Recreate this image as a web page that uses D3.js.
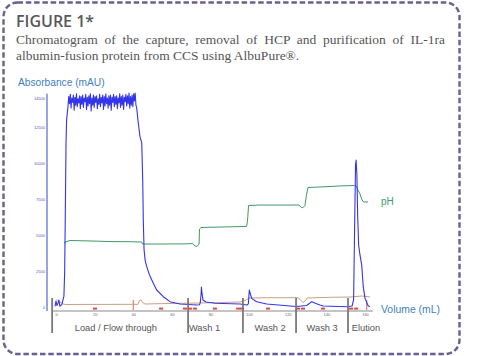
<!DOCTYPE html>
<html><head><meta charset="utf-8">
<script src="https://cdn.jsdelivr.net/npm/d3@7"></script>
<style>body{margin:0;background:#fff}svg{display:block}</style>
</head><body>
<svg id="c" width="480" height="356"></svg>
<script>
// ---------- data ----------
const titleText = "FIGURE 1*";
const subtitleLines = [
  "Chromatogram of the capture, removal of HCP and purification of IL-1ra",
  "albumin-fusion protein from CCS using AlbuPure\u00AE."
];
const yTickValues = [0, 2500, 5000, 7500, 10000, 12500, 14500];
const xTickValues = [0, 20, 40, 60, 80, 100, 120, 140, 160];
// absorbance (mAU) vs volume (mL)
const absVolume = [-0.5,0,0.5,1.0,1.5,2.0,2.6,3.1,3.6,4.1,4.5,4.9,5.2,5.5,5.8,
 6.2,6.6,7.0,7.4,7.8,8.2,8.6,9.0,9.4,9.8,10.2,10.6,11.0,11.4,11.8,12.2,12.6,13.0,13.4,13.8,
 14.2,14.6,15.0,15.4,15.8,16.2,16.6,17.0,17.4,17.8,18.2,18.6,19.0,19.4,19.8,20.2,20.6,21.0,21.4,21.8,
 22.2,22.6,23.0,23.4,23.8,24.2,24.6,25.0,25.4,25.8,26.2,26.6,27.0,27.4,27.8,28.2,28.6,29.0,29.4,29.8,
 30.2,30.6,31.0,31.4,31.8,32.2,32.6,33.0,33.4,33.8,34.2,34.6,35.0,35.4,35.8,36.2,36.6,37.0,37.4,37.8,
 38.2,38.6,39.0,39.4,39.8,40.2,40.6,41.0,41.4,
 41.8,42.6,43.5,44.4,44.9,45.2,45.6,46.2,47.0,48.2,49.6,52.1,55.6,59.0,64.2,72.9,
 74.3,74.7,75.1,75.3,75.6,76.1,77.7,82.3,95.3,98.9,
 99.6,100.1,100.5,101.3,103.9,109.1,121.2,124.3,
 129.8,132.4,134.6,136.7,138.4,150.5,153.3,
 154.1,154.6,155.1,155.4,155.8,156.2,156.7,157.4,158.3,159.1,160.0,161.7,162.6];
const absValue = [40,420,100,250,480,60,120,200,480,760,2500,7500,11500,13000,13400,
 13900,14600,14100,14750,13800,14500,14200,14700,13650,14550,14000,14800,13900,14450,14150,14650,13750,14600,14050,14700,
 13850,14500,14250,14750,13700,14550,13950,14650,14100,14800,13600,14500,14000,14700,13850,14600,14200,14650,13750,14450,
 14050,14750,13900,14550,14150,14700,13700,14600,13950,14800,14100,14500,13800,14650,14000,14700,13650,14550,14200,14750,
 13900,14600,14050,14650,13750,14500,14150,14800,13850,14600,14000,14700,13700,14550,14250,14750,13950,14650,14100,14850,
 13800,14600,14000,14700,13900,14800,14300,14850,14000,
 13800,12770,11800,11380,8810,6040,3960,3200,2800,2300,1870,1180,715,370,210,140,
 160,300,830,1390,970,490,350,260,210,140,
 220,1180,970,600,370,210,70,35,
 100,370,240,140,70,20,70,
 490,5340,9850,10200,9160,6380,4300,3610,2910,1410,600,70,35];
// pH vs volume
const phVolume = [4.4,4.66,7.25,17.6,28.0,38.3,44.3,44.8,53.9,66.8,70.9,72.0,73.0,74.1,74.3,75.1,84.9,98.7,99.2,99.7,
 105.6,125.8,127.1,127.9,128.9,129.7,130.5,136.7,147.1,154.6,155.4,156.4,157.4,158.5,159.3,161.6];
const phValue = [4.15,4.25,4.35,4.32,4.28,4.27,4.25,4.12,4.12,4.13,4.15,3.99,3.96,4.12,5.10,5.20,5.23,5.27,5.69,6.64,
 6.67,6.67,6.51,6.50,6.64,7.33,7.82,7.85,7.92,7.95,7.92,7.65,7.39,7.00,6.87,6.87];
// conductivity vs volume
const condVolume = [0.26,2.07,3.6,5.2,42.5,43.2,44.0,44.8,46.1,59.0,74.6,95.3,98.4,100.0,110.9,125.3,126.9,127.9,128.9,130.0,141.9,152.3,158.5,162.6];
const condValue = [3.5,2.34,1.40,1.17,1.26,3.04,3.27,2.10,1.40,1.64,1.87,2.34,3.27,4.21,4.35,4.35,3.04,2.01,2.80,4.21,4.53,4.67,5.14,4.67];
// fraction marks (mL)
const fractionMarks = [20.2,54.4,66.8,69.4,72.0,82.3,94.3,96.3,109.8,125.3,127.9,138.3,152.8,155.4];
const fractionLines = [40.0,160.9];
// phases
const phaseBounds = [-2, 68.4, 96.8, 124.3, 151.2];
const phaseNames = ["Load / Flow through","Wash 1","Wash 2","Wash 3","Elution"];
const phaseLabelCenters = [31, 76.9, 110.9, 137.8, 160.5];

// ---------- drawing ----------
const svg = d3.select("#c");
svg.append("rect").attr("x",3.5).attr("y",2.5).attr("width",456).attr("height",351.5)
  .attr("rx",14).attr("fill","none").attr("stroke","#6a5f8e").attr("stroke-width",2.4)
  .attr("stroke-dasharray","5.5,2.8");

svg.append("text").attr("x",16).attr("y",26.5).text(titleText)
  .attr("font-family","'Open Sans', 'Liberation Sans', sans-serif").attr("font-weight",600)
  .attr("font-size",16).attr("fill","#585858");

subtitleLines.forEach((s,i)=>{
  const t = svg.append("text").attr("x",16).attr("y",44+i*15.5).text(s)
    .attr("font-family","'Liberation Serif', serif").attr("font-size",13.5).attr("fill","#555");
  if(i===0){
    const nat = t.node().getComputedTextLength();
    const spaces = s.split(" ").length-1;
    t.attr("word-spacing", (429-nat)/spaces);
  }
});

const x = d3.scaleLinear().domain([0,160]).range([56,365]);
const y = d3.scaleLinear().domain([0,14500]).range([307,98]);
const yPh = d3.scaleLinear().domain([0,14]).range([307,93]);
const yCond = d3.scaleLinear().domain([0,100]).range([307,93]);

// y axis
const yAx = svg.append("g").attr("transform","translate(47,0)")
  .call(d3.axisLeft(y).tickValues(yTickValues).tickSize(0).tickPadding(2).tickFormat(d3.format("d")));
yAx.select(".domain").attr("d",`M0,${y(14800)}V${y(-270)}`).attr("stroke","#6672d6").attr("stroke-width",1.3);
yAx.selectAll("text").attr("font-size",4).attr("fill","#4a5cc8").attr("font-family","'Liberation Sans',sans-serif");

// x axis
const xAx = svg.append("g").attr("transform","translate(0,311)")
  .call(d3.axisBottom(x).tickValues(xTickValues).tickSize(0).tickPadding(2));
xAx.select(".domain").attr("d",`M${x(-1.6)},0H${x(164)}`).attr("stroke","#b0b0b0").attr("stroke-width",1.3);
xAx.selectAll("text").attr("font-size",4).attr("fill","#666").attr("font-family","'Liberation Sans',sans-serif");

// fraction marks
svg.append("g").selectAll("rect").data(fractionMarks).join("rect")
  .attr("x",d=>x(d)-2).attr("y",307.6).attr("width",4).attr("height",2).attr("fill","#e04848");
svg.append("g").selectAll("line").data(fractionLines).join("line")
  .attr("x1",d=>x(d)).attr("x2",d=>x(d)).attr("y1",300).attr("y2",310)
  .attr("stroke","#e04848").attr("stroke-width",0.9);

// conductivity
const condData = condVolume.map((v,i)=>[v,condValue[i]]);
svg.append("path").datum(condData)
  .attr("d",d3.line().x(d=>x(d[0])).y(d=>yCond(d[1])))
  .attr("fill","none").attr("stroke","#c9a083").attr("stroke-width",1);

// pH
const phData = phVolume.map((v,i)=>[v,phValue[i]]);
svg.append("path").datum(phData)
  .attr("d",d3.line().x(d=>x(d[0])).y(d=>yPh(d[1])))
  .attr("fill","none").attr("stroke","#3f9968").attr("stroke-width",1);

// absorbance
const absData = absVolume.map((v,i)=>[v,absValue[i]]);
svg.append("path").datum(absData)
  .attr("d",d3.line().x(d=>x(d[0])).y(d=>y(d[1])))
  .attr("fill","none").attr("stroke","#3434ea").attr("stroke-width",1.1).attr("stroke-linejoin","round");

// phase dividers
svg.append("g").selectAll("line").data(phaseBounds).join("line")
  .attr("x1",d=>x(d)).attr("x2",d=>x(d)).attr("y1",298).attr("y2",333)
  .attr("stroke","#7a7a7a").attr("stroke-width",1.8);
svg.append("g").selectAll("text").data(phaseNames).join("text")
  .attr("x",(d,i)=>x(phaseLabelCenters[i])).attr("y",331).attr("text-anchor","middle")
  .attr("font-family","'Liberation Sans',sans-serif").attr("font-size",9.3).attr("fill","#555")
  .text(d=>d);

// axis titles
svg.append("text").attr("x",18).attr("y",85.5).text("Absorbance (mAU)")
  .attr("font-family","'Liberation Sans',sans-serif").attr("font-size",10.2).attr("fill","#3f7fc0");
svg.append("text").attr("x",381).attr("y",313).text("Volume (mL)")
  .attr("font-family","'Liberation Sans',sans-serif").attr("font-size",10.4).attr("fill","#3f7fc0");
svg.append("text").attr("x",381).attr("y",205).text("pH")
  .attr("font-family","'Liberation Sans',sans-serif").attr("font-size",10).attr("fill","#3f9968");
</script>
</body></html>
